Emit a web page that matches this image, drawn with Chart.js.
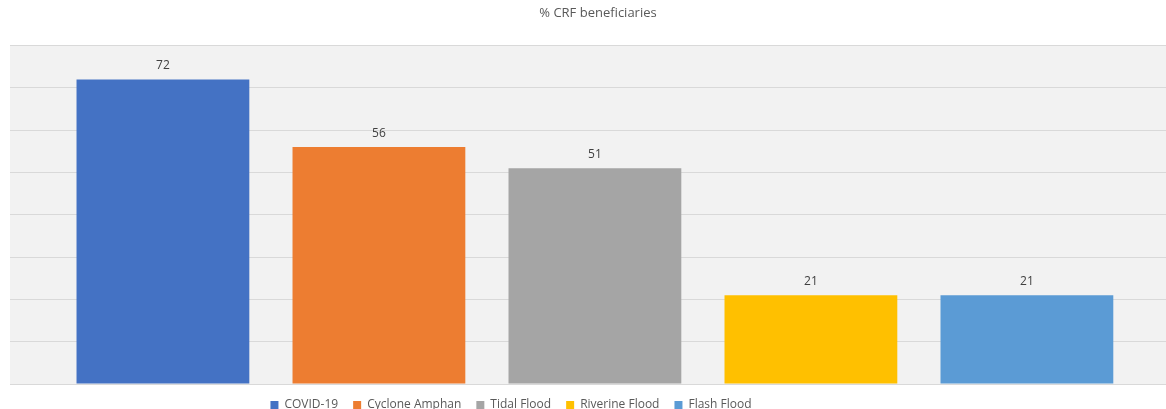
<!DOCTYPE html>
<html lang="en">
<head>
  <meta charset="UTF-8">
  <title>% CRF beneficiaries</title>
  <script src="https://cdn.jsdelivr.net/npm/chart.js"></script>
  <style>
    html, body {
      margin: 0;
      padding: 0;
      background: #fff;
    }
    .wrap {
      width: 1166px;
      height: 409px;
    }
  </style>
</head>
<body>
  <div class="wrap">
    <canvas id="crfChart" width="1166" height="409"></canvas>
  </div>

  <script>
    // data
    const categories = ['COVID-19', 'Cyclone Amphan', 'Tidal Flood', 'Riverine Flood', 'Flash Flood'];
    const beneficiaries = [72, 56, 51, 21, 21];
    const barColors = ['#4472C4', '#ED7D31', '#A5A5A5', '#FFC000', '#5B9BD5'];
    const yTicks = [0, 10, 20, 30, 40, 50, 60, 70, 80];

    const fontFamily = "'Open Sans', 'Liberation Sans', sans-serif";
    const textColor = '#595959';

    // light grey plot background
    const plotBackground = {
      id: 'plotBackground',
      beforeDraw(chart) {
        const { ctx, chartArea } = chart;
        ctx.save();
        ctx.fillStyle = '#f2f2f2';
        ctx.fillRect(chartArea.left, chartArea.top, chartArea.right - chartArea.left, chartArea.bottom - chartArea.top);
        ctx.restore();
      }
    };

    // the original has title and legend a little off centre
    const boxNudge = {
      id: 'boxNudge',
      afterLayout(chart) {
        const lg = chart.legend;
        lg.left -= 77;
        lg.right -= 77;
        const t = chart.titleBlock;
        if (t) {
          t.left += 10;
          t.right += 10;
        }
      }
    };

    // value labels over every bar
    const valueLabels = {
      id: 'valueLabels',
      afterDatasetsDraw(chart) {
        const { ctx } = chart;
        const meta = chart.getDatasetMeta(0);
        ctx.save();
        ctx.font = '12px ' + fontFamily;
        ctx.fillStyle = '#404040';
        ctx.textAlign = 'center';
        ctx.textBaseline = 'middle';
        meta.data.forEach((bar, i) => {
          ctx.fillText(String(beneficiaries[i]), bar.x, bar.y - 14);
        });
        ctx.restore();
      }
    };

    const ctx = document.getElementById('crfChart').getContext('2d');
    new Chart(ctx, {
      type: 'bar',
      data: {
        datasets: [{
          label: '% CRF beneficiaries',
          data: beneficiaries.map((v, i) => ({ x: i, y: v })),
          backgroundColor: barColors,
          borderWidth: 0,
          categoryPercentage: 0.8,
          barPercentage: 1.0
        }]
      },
      options: {
        responsive: false,
        animation: false,
        layout: {
          padding: { left: 10, right: 0, top: 0, bottom: -12 }
        },
        scales: {
          x: {
            type: 'linear',
            min: -0.708,
            max: 4.644,
            offset: false,
            display: false,
            afterBuildTicks(scale) {
              scale.ticks = categories.map((c, i) => ({ value: i }));
            }
          },
          y: {
            min: yTicks[0],
            max: yTicks[yTicks.length - 1],
            afterBuildTicks(scale) {
              scale.ticks = yTicks.map(v => ({ value: v }));
            },
            ticks: { display: false },
            grid: { color: '#d9d9d9', lineWidth: 1, drawTicks: false },
            border: { display: false }
          }
        },
        plugins: {
          title: {
            display: true,
            text: '% CRF beneficiaries',
            color: textColor,
            font: { family: fontFamily, size: 13, weight: 'normal' },
            padding: { top: 5, bottom: 25 }
          },
          legend: {
            display: true,
            position: 'bottom',
            onClick: null,
            labels: {
              font: { family: fontFamily, size: 12 },
              color: textColor,
              boxWidth: 8,
              boxHeight: 8,
              padding: 15,
              generateLabels() {
                return categories.map((c, i) => ({
                  text: c,
                  fillStyle: barColors[i],
                  strokeStyle: barColors[i],
                  lineWidth: 0,
                  fontColor: textColor,
                  hidden: false,
                  index: i
                }));
              }
            }
          },
          tooltip: { enabled: false }
        }
      },
      plugins: [plotBackground, valueLabels, boxNudge]
    });
  </script>
</body>
</html>
